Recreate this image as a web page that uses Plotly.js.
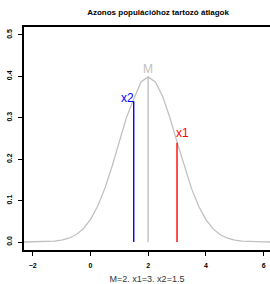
<!DOCTYPE html>
<html><head><meta charset="utf-8">
<script src="https://cdn.plot.ly/plotly-3.0.1.min.js"></script>
<style>html,body{margin:0;padding:0;background:#fff}#c{width:270px;height:284px}</style>
</head><body><div id="c"></div>
<script>
// density curve (M=2)
const curveX = [-2.3,-2.0,-1.75,-1.5,-1.25,-1.0,-0.75,-0.5,-0.25,0.0,0.25,0.5,0.75,1.0,1.25,1.5,1.75,2.0,2.25,2.5,2.75,3.0,3.25,3.5,3.75,4.0,4.25,4.5,4.75,5.0,5.25,5.5,5.75,6.0,6.25];
const curveY = [0.0000,0.0001,0.0004,0.0009,0.0020,0.0044,0.0091,0.0175,0.0317,0.0540,0.0863,0.1295,0.1826,0.2420,0.3011,0.3450,0.3867,0.3989,0.3867,0.3521,0.3011,0.2420,0.1826,0.1295,0.0863,0.0540,0.0317,0.0175,0.0091,0.0044,0.0020,0.0009,0.0004,0.0001,0.0000];
const markNames = ["M","x2","x1"];
const markX = [2, 1.5, 3];
const markTop = [0.399, 0.34, 0.24];
const markColors = ["#c0c0c0","#0000ff","#ff0000"];
const xTicks = [-2,0,2,4,6];
const yTicks = [0.0,0.1,0.2,0.3,0.4,0.5];
const titleText = "Azonos populációhoz tartozó átlagok";
const xTitle = "M=2. x1=3. x2=1.5";

const traces = [{x:curveX,y:curveY,mode:"lines",line:{color:"#c0c0c0",width:1.3},hoverinfo:"skip"}];
markNames.forEach((n,i)=>{
  traces.push({x:[markX[i],markX[i]],y:[0,markTop[i]],mode:"lines",line:{color:markColors[i],width:1.4},hoverinfo:"skip"});
});
const annotations = [
  {x:markX[0],y:markTop[0],text:markNames[0],showarrow:false,xanchor:"center",yanchor:"bottom",yshift:-1,font:{family:"Liberation Sans, Arial",size:12,color:markColors[0]}},
  {x:markX[1],y:markTop[1],text:markNames[1],showarrow:false,xanchor:"right",yanchor:"bottom",xshift:2,yshift:-6,font:{family:"Liberation Sans, Arial",size:12,color:markColors[1]}},
  {x:markX[2],y:markTop[2],text:markNames[2],showarrow:false,xanchor:"left",yanchor:"bottom",xshift:-3,yshift:1,font:{family:"Liberation Sans, Arial",size:12,color:markColors[2]}}
];
const layout = {
  width:270,height:284,margin:{l:24,r:0,t:27,b:34},
  paper_bgcolor:"#fff",plot_bgcolor:"#fff",showlegend:false,
  title:{text:"<b>"+titleText+"</b>",x:0.545,xref:"paper",xanchor:"center",y:0.958,yanchor:"middle",font:{family:"Liberation Sans, Arial",size:8,color:"#000"}},
  xaxis:{range:[-2.3,6.22],tickvals:xTicks,ticktext:xTicks.map(v=>"<b>"+(v<0?"\u2212"+(-v):v)+"</b>"),showgrid:false,zeroline:false,
    showline:true,mirror:true,linecolor:"#000",linewidth:2,ticks:"outside",ticklen:4,tickwidth:1,tickcolor:"#000",
    tickfont:{family:"Liberation Sans, Arial",size:7,color:"#000"},ticklabelstandoff:4,
    title:{text:xTitle,standoff:9,font:{family:"Liberation Sans, Arial",size:9,color:"#333"}}},
  yaxis:{range:[-0.0193,0.5193],tickvals:yTicks,ticktext:yTicks.map(v=>"<b>"+v.toFixed(1)+"</b>"),showgrid:false,zeroline:false,
    showline:true,mirror:false,linecolor:"#000",linewidth:2,ticks:"outside",ticklen:4,tickwidth:1,tickcolor:"#000",tickangle:-90,
    tickfont:{family:"Liberation Sans, Arial",size:7,color:"#000"},ticklabelstandoff:3},
  annotations:annotations
};
Plotly.newPlot("c",traces,layout,{displayModeBar:false,staticPlot:true});
</script></body></html>
